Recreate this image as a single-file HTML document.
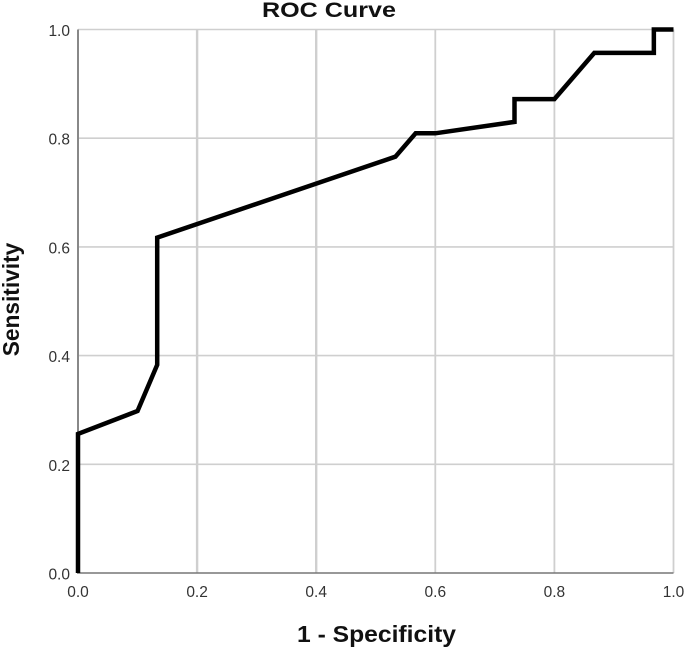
<!DOCTYPE html>
<html>
<head>
<meta charset="utf-8">
<style>
html,body{margin:0;padding:0;background:#fff;}
svg{display:block;}
text{font-family:"Liberation Sans",Arial,sans-serif;}
</style>
</head>
<body>
<svg id="chart" width="685" height="647" viewBox="0 0 685 647" xmlns="http://www.w3.org/2000/svg">
<rect x="0" y="0" width="685" height="647" fill="#ffffff"/>
<g id="grid"></g>
<g id="axes"></g>
<g id="ticks"></g>
<polyline id="curve" fill="none" stroke="#000000" stroke-width="4.5" stroke-linejoin="miter"></polyline>
<text x="262" y="17" font-size="21.5" font-weight="bold" fill="#111" textLength="134" lengthAdjust="spacingAndGlyphs">ROC Curve</text>
<text x="297" y="642" font-size="23.5" font-weight="bold" fill="#111" textLength="159" lengthAdjust="spacingAndGlyphs">1 - Specificity</text>
<text x="0" y="0" transform="translate(19,299.5) rotate(-90)" text-anchor="middle" font-size="22.7" font-weight="bold" fill="#111">Sensitivity</text>
</svg>
<script>
const xTicks = [0, 0.2, 0.4, 0.6, 0.8, 1];
const yTicks = [0, 0.2, 0.4, 0.6, 0.8, 1];
const fprValues = [0, 0, 0.1, 0.133, 0.133, 0.533, 0.567, 0.6, 0.733, 0.733, 0.8, 0.867, 0.967, 0.967, 1];
const tprValues = [0, 0.256, 0.298, 0.383, 0.617, 0.766, 0.809, 0.809, 0.83, 0.872, 0.872, 0.957, 0.957, 1, 1];

const NS = 'http://www.w3.org/2000/svg';
const plotLeft = 78, plotRight = 673.5, plotTop = 29.5, plotBottom = 573;
function xScale(v) { return plotLeft + v * (plotRight - plotLeft); }
function yScale(v) { return plotBottom - v * (plotBottom - plotTop); }
function makeLine(x1, y1, x2, y2, color, width) {
  const l = document.createElementNS(NS, 'line');
  l.setAttribute('x1', x1);
  l.setAttribute('y1', y1);
  l.setAttribute('x2', x2);
  l.setAttribute('y2', y2);
  l.setAttribute('stroke', color);
  l.setAttribute('stroke-width', width);
  return l;
}
function makeText(x, y, str, anchor) {
  const t = document.createElementNS(NS, 'text');
  t.setAttribute('x', x);
  t.setAttribute('y', y);
  t.setAttribute('text-anchor', anchor);
  t.setAttribute('font-size', '15.5');
  t.setAttribute('fill', '#333');
  t.textContent = str;
  return t;
}
const grid = document.getElementById('grid');
const ticks = document.getElementById('ticks');
const axes = document.getElementById('axes');

xTicks.forEach(function (v) {
  const px = xScale(v);
  if (v > 0) {
    const g = makeLine(px, plotTop, px, plotBottom, '#cfcfcf', v < 0.5 ? 2.4 : 1.8);
    
    
    grid.appendChild(g);
  }
  const t = makeText(px, 597, v.toFixed(1), 'middle');
  
  
  ticks.appendChild(t);
});
yTicks.forEach(function (v) {
  const py = yScale(v);
  if (v > 0) {
    const g = makeLine(plotLeft, py, plotRight, py, '#cfcfcf', 1.6);
    
    
    grid.appendChild(g);
  }
  const t = makeText(70, py + 6.5, v.toFixed(1), 'end');
  
  
  ticks.appendChild(t);
});
const xAxis = makeLine(plotLeft - 1, plotBottom, plotRight, plotBottom, '#777', 1.6);


axes.appendChild(xAxis);
const yAxis = makeLine(plotLeft, plotTop, plotLeft, plotBottom, '#888', 2);


axes.appendChild(yAxis);

document.getElementById('curve').setAttribute('points', fprValues.map(function (f, i) {
  return xScale(f) + ',' + yScale(tprValues[i]);
}).join(' '));
</script>
</body>
</html>
